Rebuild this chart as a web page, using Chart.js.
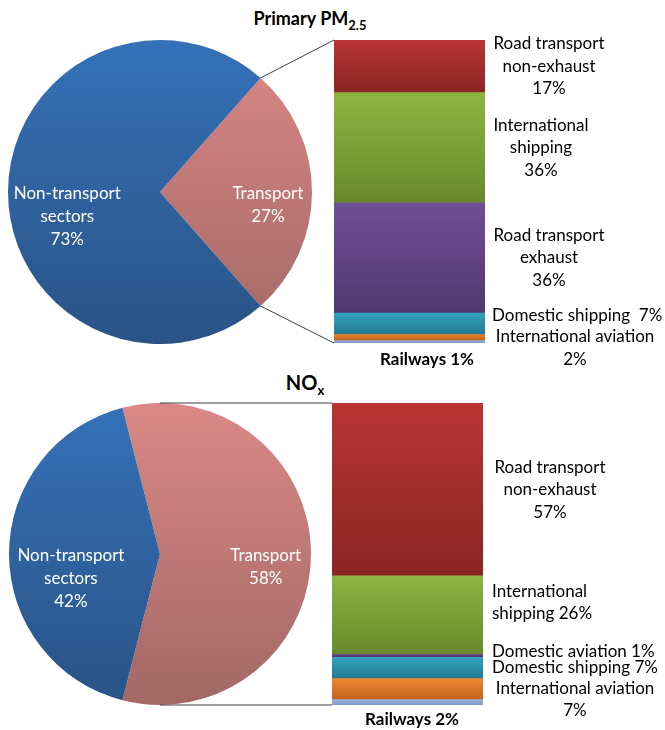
<!DOCTYPE html>
<html>
<head>
<meta charset="utf-8">
<script src="https://cdn.jsdelivr.net/npm/chart.js@4.4.1/dist/chart.umd.min.js"></script>
<style>
body{margin:0;background:#fff;width:665px;height:730px;position:relative;overflow:hidden;font-family:Lato,"Open Sans",sans-serif}
canvas{position:absolute}
.ttl{position:absolute;font-weight:bold;font-size:18px;line-height:20px;text-align:center;width:200px;color:#000}
.ttl sub{font-size:13px;vertical-align:-5px;line-height:0}
</style>
</head>
<body>
<div class="ttl" style="left:210px;top:8px">Primary PM<sub>2.5</sub></div>
<div class="ttl" style="left:205px;top:372px;font-size:20px">NO<sub>x</sub></div>
<canvas id="pie1" width="304" height="304" style="left:8px;top:40px"></canvas>
<canvas id="bar1" width="345" height="340" style="left:320px;top:30px"></canvas>
<canvas id="pie2" width="302" height="302" style="left:9px;top:403px"></canvas>
<canvas id="bar2" width="345" height="337" style="left:320px;top:393px"></canvas>
<canvas id="lines" width="665" height="730" style="left:0;top:0;pointer-events:none"></canvas>
<script>
var FONT = 'Lato, "Open Sans", sans-serif';

// data
var pmPieLabels = ["Transport", "Non-transport sectors"];
var pmPieValues = [27, 73];
var noxPieLabels = ["Transport", "Non-transport sectors"];
var noxPieValues = [58, 42];

var pmCats = ["Road transport non-exhaust","International shipping","Road transport exhaust","Domestic shipping","International aviation","Railways"];
var pmValues = [17, 36, 36, 7, 2, 1];
var noxCats = ["Road transport non-exhaust","International shipping","Domestic aviation","Domestic shipping","International aviation","Railways"];
var noxValues = [57, 26, 1, 7, 7, 2];

var pieText = [["Transport"], ["Non-transport","sectors"]];
var pmText = [["Road transport","non-exhaust","{v}%"],["International","shipping","{v}%"],["Road transport","exhaust","{v}%"],["Domestic shipping  {v}%"],["International aviation","{v}%"],["Railways {v}%"]];
var noxText = [["Road transport","non-exhaust","{v}%"],["International","shipping {v}%"],["Domestic aviation {v}%"],["Domestic shipping {v}%"],["International aviation","{v}%"],["Railways {v}%"]];

// label layout (x from bar right edge, dy from segment middle)
var pmPos = [{x:64,dy:-22,al:"center"},{x:56,dy:-22,al:"center"},{x:64,dy:-22,al:"center"},{x:7,dy:-8,al:"left"},{x:90,dy:0,al:"center"},{x:-58,dy:18,al:"center",bold:true}];
var noxPos = [{x:67,dy:-22,al:"center"},{x:9,dy:-23,al:"left"},{x:9,dy:-4,al:"left"},{x:9,dy:0,al:"left"},{x:92,dy:0,al:"center"},{x:-71,dy:18,al:"center",bold:true}];

var colors = {
  "Transport": ["#DB8885","#A26866"],
  "Non-transport sectors": ["#3571B8","#2A5386"],
  "Road transport non-exhaust": ["#BA3533","#892524"],
  "International shipping": ["#8EB541","#69892D"],
  "Road transport exhaust": ["#704F98","#51396F"],
  "Domestic aviation": ["#704F98","#51396F"],
  "Domestic shipping": ["#33A3C1","#247A92"],
  "International aviation": ["#F28832","#C3611C"],
  "Railways": ["#9BB6DC","#7A97C5"]
};

function vgrad(ctx, top, bottom, c){
  var g = ctx.createLinearGradient(0, top, 0, bottom);
  g.addColorStop(0, c[0]);
  g.addColorStop(1, c[1]);
  return g;
}

var pieLabelPlugin = {
  id: "pieLabels",
  afterDatasetsDraw: function(chart, args, opts){
    var ctx = chart.ctx;
    var ds = chart.data.datasets[0];
    ctx.save();
    ctx.fillStyle = "#fff";
    ctx.font = "17px " + FONT;
    ctx.textAlign = "center";
    ctx.textBaseline = "middle";
    chart.getDatasetMeta(0).data.forEach(function(arc, i){
      var mid = (arc.startAngle + arc.endAngle) / 2;
      var x = arc.x + Math.cos(mid) * arc.outerRadius * opts.k[i];
      var y = arc.y + Math.sin(mid) * arc.outerRadius * opts.k[i] + 2;
      var lines = pieText[i].concat(ds.data[i] + "%");
      lines.forEach(function(t, j){ ctx.fillText(t, x, y + j * 23); });
    });
    ctx.restore();
  }
};

function makePie(id, labels, values, k){
  var rot = 90 - values[0] / (values[0] + values[1]) * 180;
  return new Chart(document.getElementById(id), {
    type: "pie",
    data: {
      labels: labels,
      datasets: [{
        data: values,
        borderWidth: 0,
        backgroundColor: function(c){
          var a = c.chart.chartArea;
          var col = colors[labels[c.dataIndex]];
          if (!a) return col[0];
          return vgrad(c.chart.ctx, a.top, a.bottom, col);
        }
      }]
    },
    options: {
      responsive: false,
      animation: false,
      rotation: rot,
      layout: {padding: 0},
      plugins: {legend: {display: false}, tooltip: {enabled: false}, pieLabels: {k: k}}
    },
    plugins: [pieLabelPlugin]
  });
}

var barLabelPlugin = {
  id: "barLabels",
  afterDatasetsDraw: function(chart, args, opts){
    var ctx = chart.ctx, a = chart.chartArea, y = chart.scales.y;
    var acc = 0;
    ctx.save();
    ctx.fillStyle = "#000";
    ctx.textBaseline = "middle";
    chart.data.datasets.forEach(function(ds, i){
      var v = ds.data[0];
      var mid = y.getPixelForValue(acc + v / 2);
      acc += v;
      var p = opts.pos[i];
      ctx.font = (p.bold ? "bold " : "") + "17px " + FONT;
      ctx.textAlign = p.al;
      opts.text[i].forEach(function(t, j){
        ctx.fillText(t.replace("{v}", v), a.right + p.x, mid + p.dy + j * 22.5);
      });
    });
    ctx.restore();
  }
};

function makeBar(id, cats, values, text, pos, pad){
  var total = values.reduce(function(s, v){ return s + v; }, 0);
  var datasets = cats.map(function(cat, i){
    return {
      label: cat,
      data: [values[i]],
      borderWidth: 0,
      barPercentage: 1,
      categoryPercentage: 1,
      backgroundColor: function(c){
        var ys = c.chart.scales.y;
        if (!ys || !c.chart.chartArea) return colors[cat][0];
        var start = 0;
        for (var j = 0; j < i; j++) start += values[j];
        return vgrad(c.chart.ctx, ys.getPixelForValue(start), ys.getPixelForValue(start + values[i]), colors[cat]);
      }
    };
  });
  return new Chart(document.getElementById(id), {
    type: "bar",
    data: {labels: [""], datasets: datasets},
    options: {
      responsive: false,
      animation: false,
      layout: {padding: pad},
      scales: {
        x: {stacked: true, display: false},
        y: {stacked: true, display: false, reverse: true, min: 0, max: total}
      },
      plugins: {legend: {display: false}, tooltip: {enabled: false}, barLabels: {text: text, pos: pos}}
    },
    plugins: [barLabelPlugin]
  });
}

var pie1 = makePie("pie1", pmPieLabels, pmPieValues, [0.71, 0.61]);
var bar1 = makeBar("bar1", pmCats, pmValues, pmText, pmPos, {left:14, right:180, top:10, bottom:27});
var pie2 = makePie("pie2", noxPieLabels, noxPieValues, [0.70, 0.59]);
var bar2 = makeBar("bar2", noxCats, noxValues, noxText, noxPos, {left:12, right:182, top:10, bottom:25});

// connector lines from the transport slice to the bar
function connect(pie, bar){
  var lc = document.getElementById("lines").getContext("2d");
  var pc = pie.canvas, bc = bar.canvas;
  var arc = pie.getDatasetMeta(0).data[0];
  var cx = pc.offsetLeft + arc.x, cy = pc.offsetTop + arc.y, r = arc.outerRadius;
  function edge(ang, sign){
    if (Math.abs(ang) > Math.PI / 2) return [cx, cy + sign * r];
    return [cx + Math.cos(ang) * r, cy + Math.sin(ang) * r];
  }
  var a = bar.chartArea;
  var p1 = edge(arc.startAngle, -1), p2 = edge(arc.endAngle, 1);
  lc.strokeStyle = "#404040";
  lc.lineWidth = 1;
  lc.beginPath();
  lc.moveTo(p1[0], p1[1]); lc.lineTo(bc.offsetLeft + a.left, bc.offsetTop + a.top);
  lc.moveTo(p2[0], p2[1]); lc.lineTo(bc.offsetLeft + a.left, bc.offsetTop + a.bottom);
  lc.stroke();
}
connect(pie1, bar1);
connect(pie2, bar2);
</script>
</body>
</html>
